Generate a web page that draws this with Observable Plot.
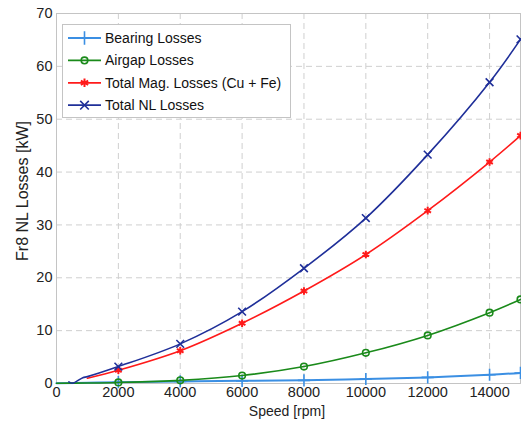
<!DOCTYPE html>
<html>
<head>
<meta charset="utf-8">
<script src="https://cdn.jsdelivr.net/npm/d3@7"></script>
<script src="https://cdn.jsdelivr.net/npm/@observablehq/plot@0.6"></script>
<style>
  html, body { margin: 0; padding: 0; background: #fff; }
  #chart { width: 521px; height: 422px; }
  svg { font-family: "Liberation Sans", Arial, sans-serif; }
</style>
</head>
<body>
<div id="chart"></div>
<script>
// Speeds (rpm) and no-load loss components (kW)
const markerSpeeds = [2000, 4000, 6000, 8000, 10000, 12000, 14000, 15000];

const bearingSpeeds = [0, 1000, 2000, 4000, 6000, 8000, 10000, 12000, 14000, 15000];
const bearingLosses = [0.05, 0.15, 0.25, 0.4, 0.5, 0.6, 0.85, 1.15, 1.65, 2.0];

const airgapSpeeds = [0, 1000, 2000, 4000, 6000, 8000, 10000, 12000, 14000, 15000];
const airgapLosses = [0.05, 0.1, 0.2, 0.6, 1.5, 3.2, 5.8, 9.1, 13.4, 15.9];

const magSpeeds = [1000, 2000, 4000, 6000, 8000, 10000, 12000, 14000, 15000];
const magLosses = [1.0, 2.5, 6.2, 11.4, 17.5, 24.4, 32.7, 41.9, 46.9];

const nlSpeeds = [400, 520, 850, 1000, 2000, 4000, 6000, 8000, 10000, 12000, 14000, 15000];
const nlLosses = [0.3, 0.05, 1.1, 1.3, 3.2, 7.5, 13.6, 21.8, 31.3, 43.3, 57.0, 65.1];

const xTicks = [0, 2000, 4000, 6000, 8000, 10000, 12000, 14000];
const yTicks = [0, 10, 20, 30, 40, 50, 60, 70];

const seriesNames = ["Bearing Losses", "Airgap Losses", "Total Mag. Losses (Cu + Fe)", "Total NL Losses"];
const seriesColors = ["#3b8fe3", "#1a8a1a", "#ff1a1a", "#1f2f99"];
const seriesSymbols = ["plus", "circle", "asterisk", "times"];
const symbolRadius = [4, 3.3, 3.6, 3.6];

function rows(speeds, values) {
  return speeds.map((s, i) => ({speed: s, loss: values[i]}));
}
const lines = [
  rows(bearingSpeeds, bearingLosses),
  rows(airgapSpeeds, airgapLosses),
  rows(magSpeeds, magLosses),
  rows(nlSpeeds, nlLosses)
];
const markers = lines.map(r => r.filter(d => markerSpeeds.includes(d.speed)));

const gridStyle = {stroke: "#cfcfcf", strokeOpacity: 1, strokeDasharray: "6,4"};

const marks = [
  Plot.gridX(xTicks, gridStyle),
  Plot.gridY(yTicks, gridStyle),
  Plot.frame({stroke: "#c4c4c4"}),
  Plot.axisX(xTicks, {tickSize: 0, tickPadding: 3, fontSize: 14.5, label: null, tickFormat: d => String(d)}),
  Plot.axisY(yTicks, {tickSize: 0, tickPadding: 4, fontSize: 14.5, label: null})
];
lines.forEach((data, i) => {
  marks.push(Plot.line(data, {
    x: "speed", y: "loss", stroke: seriesColors[i],
    strokeWidth: i === 0 ? 2 : 1.6, curve: "catmull-rom"
  }));
  marks.push(Plot.dot(markers[i], {
    x: "speed", y: "loss", stroke: seriesColors[i], fill: "none",
    symbol: seriesSymbols[i], r: symbolRadius[i], strokeWidth: i === 2 ? 2 : 1.6
  }));
});

const plot = Plot.plot({
  width: 521,
  height: 422,
  marginLeft: 56,
  marginRight: 1,
  marginTop: 13,
  marginBottom: 39,
  style: {fontFamily: "'Liberation Sans', Arial, sans-serif", color: "#222", background: "#fff"},
  x: {domain: [0, 15000]},
  y: {domain: [0, 70]},
  marks
});

document.getElementById("chart").appendChild(plot);

// Axis titles and legend
const svg = d3.select(plot);
svg.append("text")
  .attr("x", 287).attr("y", 416)
  .attr("text-anchor", "middle").attr("font-size", 14).attr("fill", "#222")
  .text("Speed [rpm]");
svg.append("text")
  .attr("transform", "translate(27.5,191) rotate(-90)")
  .attr("text-anchor", "middle").attr("font-size", 16).attr("fill", "#222")
  .text("Fr8 NL Losses [kW]");

const legend = svg.append("g").attr("text-anchor", "start");
legend.append("rect")
  .attr("x", 62.5).attr("y", 24.5).attr("width", 228).attr("height", 93)
  .attr("fill", "#fff").attr("stroke", "#c4c4c4");
const symbolPaths = {
  plus: d3.symbol(d3.symbolPlus, 60)(),
  circle: d3.symbol(d3.symbolCircle, 34)(),
  asterisk: d3.symbol(d3.symbolAsterisk, 50)(),
  times: d3.symbol(d3.symbolTimes, 50)()
};
seriesNames.forEach((name, i) => {
  const y = 38 + i * 22.4;
  const g = legend.append("g");
  g.append("line").attr("x1", 68).attr("x2", 101).attr("y1", y).attr("y2", y)
    .attr("stroke", seriesColors[i]).attr("stroke-width", 1.8);
  g.append("path").attr("d", symbolPaths[seriesSymbols[i]])
    .attr("transform", `translate(84.5,${y})`)
    .attr("fill", "none").attr("stroke", seriesColors[i]).attr("stroke-width", i === 2 ? 2 : 1.6);
  g.append("text").attr("x", 105).attr("y", y).attr("dy", "0.35em")
    .attr("text-anchor", "start")
    .attr("font-size", 14).attr("fill", "#111").text(name);
});
</script>
</body>
</html>
